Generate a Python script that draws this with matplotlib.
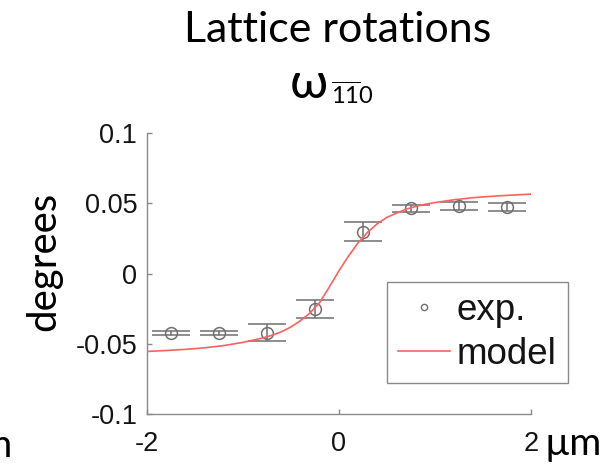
import matplotlib
matplotlib.use("Agg")
import matplotlib.pyplot as plt
from matplotlib.lines import Line2D

# measured lattice rotation across the interface
pos_um = [-1.75, -1.25, -0.75, -0.25, 0.25, 0.75, 1.25, 1.75]
rot_deg = [-0.0425, -0.0423, -0.0420, -0.0253, 0.0298, 0.0465, 0.0480, 0.0475]
rot_err = [0.0015, 0.0015, 0.0062, 0.0063, 0.0068, 0.0026, 0.0030, 0.0030]

# model prediction
model_x = [-2.0, -1.8, -1.6, -1.4, -1.2, -1.0, -0.8, -0.7, -0.6, -0.5, -0.4,
           -0.3, -0.2, -0.1, 0.0, 0.1, 0.2, 0.3, 0.4, 0.5, 0.6, 0.7, 0.8,
           0.9, 1.0, 1.2, 1.4, 1.6, 1.8, 2.0]
model_y = [-0.0555, -0.0548, -0.0540, -0.0529, -0.0513, -0.0490, -0.0460,
           -0.0440, -0.0415, -0.0380, -0.0335, -0.0280, -0.0205, -0.0095,
           0.0020, 0.0125, 0.0220, 0.0295, 0.0355, 0.0400, 0.0430, 0.0458,
           0.0478, 0.0493, 0.0505, 0.0525, 0.0540, 0.0550, 0.0558, 0.0565]

xticks = [-2, 0, 2]
xticklabels = ["-2", "0", "2"]
yticks = [-0.1, -0.05, 0, 0.05, 0.1]
yticklabels = ["-0.1", "-0.05", "0", "0.05", "0.1"]

W, H = 605, 465
plt.rcParams["axes.unicode_minus"] = False
fig = plt.figure(figsize=(W / 100, H / 100), dpi=100)
ax = fig.add_axes([147 / W, 1 - 414 / H, 384 / W, 281 / H])

gray = "#6f6f6f"
ax.errorbar(pos_um, rot_deg, yerr=rot_err, fmt="o", mfc="none", mec=gray,
            mew=1.1, ms=8.5, ecolor=gray, elinewidth=1.1, capsize=13.7,
            capthick=1.1, zorder=2)
ax.plot(model_x, model_y, color="#ff6060", lw=1.2, zorder=3)

ax.set_xlim(-2, 2)
ax.set_ylim(-0.1, 0.1)
ax.set_xticks(xticks)
ax.set_xticklabels(xticklabels)
ax.set_yticks(yticks)
ax.set_yticklabels(yticklabels)
for s in ("top", "right"):
    ax.spines[s].set_visible(False)
for s in ("left", "bottom"):
    ax.spines[s].set_color("#8a8a8a")
    ax.spines[s].set_linewidth(1.0)
ax.tick_params(direction="in", length=3.6, width=1.0, color="#8a8a8a",
               labelsize=19.5, labelcolor="#141414")
ax.tick_params(axis="y", pad=7)
ax.tick_params(axis="x", pad=12)
for lab in ax.get_xticklabels() + ax.get_yticklabels():
    lab.set_family(["Liberation Sans", "DejaVu Sans"])

handles = [
    Line2D([], [], ls="none", marker="o", mfc="none", mec=gray, ms=4.5, mew=1.0),
    Line2D([], [], color="#ff6060", lw=1.2),
]
leg = ax.legend(handles, ["exp.", "model"], loc="upper left",
                bbox_to_anchor=(387 / W, 1 - 282 / H),
                bbox_transform=fig.transFigure, borderaxespad=0,
                prop={"family": ["Liberation Sans", "DejaVu Sans"], "size": 26.5},
                handlelength=1.4, handletextpad=0.2, borderpad=0.3,
                labelspacing=0.25, fancybox=False, framealpha=1)
leg.get_frame().set_edgecolor("#8a8a8a")
leg.get_frame().set_linewidth(1.0)
for t in leg.get_texts():
    t.set_color("#141414")

fam = ["Lato", "Open Sans", "DejaVu Sans"]


def px(x, y):
    return x / W, 1 - y / H


fig.text(*px(338, 42), "Lattice rotations", ha="center", va="baseline",
         fontsize=31, family=fam, color="black")
fig.text(*px(290, 98), "\u03c9", ha="left", va="baseline",
         fontsize=36, family=fam, color="black")
fig.text(*px(331, 104), r"$\mathregular{\overline{11}0}$", ha="left",
         va="baseline", fontsize=17, family=fam, color="black")
fig.text(*px(44, 261), "degrees", ha="center", va="center", rotation=90,
         fontsize=29, family=fam, color="black")
fig.text(*px(545, 455), "\u00b5m", ha="left", va="baseline",
         fontsize=28, family=fam, color="black")
fig.text(*px(13, 457), "\u00b5m", ha="right", va="baseline",
         fontsize=28, family=fam, color="black")

fig.savefig("out.png", dpi=100)
